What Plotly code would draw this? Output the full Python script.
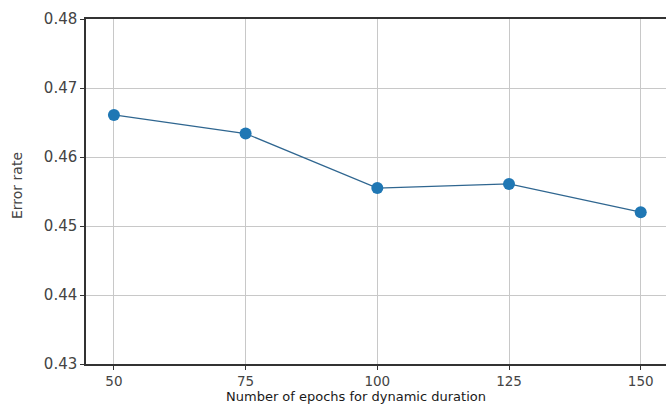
import plotly.graph_objects as go

epochs = [50, 75, 100, 125, 150]
error_rate = [0.4661, 0.4634, 0.4555, 0.4561, 0.4520]
x_ticks = [50, 75, 100, 125, 150]
y_ticks = [0.43, 0.44, 0.45, 0.46, 0.47, 0.48]
y_tick_labels = ["0.43", "0.44", "0.45", "0.46", "0.47", "0.48"]

fig = go.Figure()
fig.add_trace(go.Scatter(
    x=epochs, y=error_rate, mode="lines+markers",
    line=dict(color="#2f6690", width=1.2),
    marker=dict(color="#1f77b4", size=12),
    showlegend=False,
))

font_family = "DejaVu Sans"
fig.update_layout(
    width=666, height=405,
    margin=dict(l=86, r=0, t=19, b=41),
    plot_bgcolor="white", paper_bgcolor="white",
    font=dict(family=font_family, size=15, color="#444"),
)
fig.update_xaxes(
    range=[44.7, 154.8], tickvals=x_ticks, ticktext=[str(v) for v in x_ticks],
    showgrid=True, gridcolor="#c8c8c8", gridwidth=1,
    showline=True, linecolor="#333", linewidth=1.5, mirror=True,
    ticks="outside", ticklen=4, tickcolor="#333", tickwidth=1.2,
    zeroline=False, tickfont=dict(size=13.5, color="#444"),
)
fig.update_yaxes(
    range=[0.43, 0.48], tickvals=y_ticks, ticktext=y_tick_labels,
    showgrid=True, gridcolor="#c8c8c8", gridwidth=1,
    showline=True, linecolor="#333", linewidth=1.5, mirror=False,
    ticks="outside", ticklen=4, tickcolor="#333", tickwidth=1.2,
    zeroline=False, tickfont=dict(size=15, color="#444"),
)
fig.add_annotation(
    text="Number of epochs for dynamic duration", xref="paper", yref="paper",
    x=(355.5 - 86) / 580, y=-(397 - 364) / 345, xanchor="center", yanchor="middle",
    showarrow=False, font=dict(family=font_family, size=13, color="#1a1a1a"),
)
fig.add_annotation(
    text="Error rate", xref="paper", yref="paper",
    x=-(86 - 17) / 580, y=(364 - 186) / 345, xanchor="center", yanchor="middle", textangle=-90,
    showarrow=False, font=dict(family=font_family, size=14, color="#444"),
)

fig.write_html("out.html")
